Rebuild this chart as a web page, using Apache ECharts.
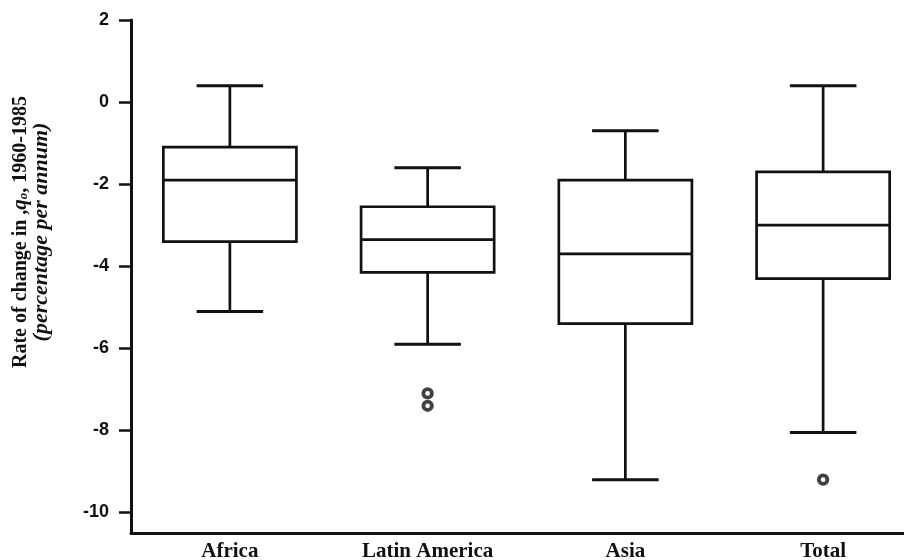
<!DOCTYPE html>
<html><head><meta charset="utf-8">
<script src="https://cdn.jsdelivr.net/npm/echarts@6/dist/echarts.min.js"></script>
<style>html,body{margin:0;padding:0;background:#fff}#c{width:904px;height:560px}</style>
</head><body><div id="c"></div>
<script>
const categories = ['Africa', 'Latin America', 'Asia', 'Total'];
const whiskerLow = [-5.1, -5.9, -9.2, -8.05];
const q1 = [-3.4, -4.15, -5.4, -4.3];
const median = [-1.9, -3.35, -3.7, -3.0];
const q3 = [-1.1, -2.55, -1.9, -1.7];
const whiskerHigh = [0.4, -1.6, -0.7, 0.4];
const outlierCat = ['Latin America', 'Latin America', 'Total'];
const outlierVal = [-7.1, -7.4, -9.2];
const yTicks = [-10, -8, -6, -4, -2, 0, 2];

const boxData = categories.map((c, i) => [i, whiskerLow[i], q1[i], median[i], q3[i], whiskerHigh[i]]);
const outlierData = outlierCat.map((c, i) => [categories.indexOf(c), outlierVal[i]]);

const chart = echarts.init(document.getElementById('c'), null, {renderer: 'canvas'});
const ink = '#111';
chart.setOption({
  animation: false,
  backgroundColor: '#fff',
  grid: {left: 131, top: 20, width: 791, height: 513, outerBoundsMode: 'none', containLabel: false},
  graphic: [{
    type: 'text',
    x: 31, y: 232,
    rotation: Math.PI / 2,
    style: {
      text: '{a|Rate of change in ,}{q|q}{s|o}{a|, 1960-1985}\n{b|(percentage per annum)}',
      align: 'center', verticalAlign: 'middle',
      rich: {
        a: {fontFamily: 'Liberation Serif', fontWeight: 'bold', fontSize: 20, fill: ink, lineHeight: 21, align: 'center'},
        q: {fontFamily: 'Liberation Serif', fontWeight: 'bold', fontStyle: 'italic', fontSize: 21, fill: ink, lineHeight: 21},
        s: {fontFamily: 'Liberation Serif', fontWeight: 'bold', fontStyle: 'italic', fontSize: 13, fill: ink, lineHeight: 21, padding: [7, 0, 0, 0]},
        b: {fontFamily: 'Liberation Serif', fontWeight: 'bold', fontStyle: 'italic', fontSize: 22, fill: ink, lineHeight: 21, align: 'center'}
      }
    }
  }],
  xAxis: {
    type: 'category', data: categories, boundaryGap: true,
    axisLine: {onZero: false, lineStyle: {color: ink, width: 3}},
    axisTick: {show: false},
    splitLine: {show: false},
    axisLabel: {margin: 8, color: ink, fontFamily: 'Liberation Serif', fontWeight: 'bold', fontSize: 21}
  },
  yAxis: {
    type: 'value', min: -10.5, max: 2,
    axisLine: {show: true, onZero: false, lineStyle: {color: ink, width: 3}},
    axisTick: {show: true, length: 12, lineStyle: {color: ink, width: 2.5}, customValues: yTicks},
    axisLabel: {margin: 22, color: ink, fontFamily: 'Liberation Sans', fontWeight: 'bold', fontSize: 18, customValues: yTicks},
    splitLine: {show: false}
  },
  series: [
    {
      type: 'custom',
      data: boxData,
      encode: {x: 0, y: [1, 2, 3, 4, 5]},
      clip: false,
      renderItem: function (params, api) {
        const idx = api.value(0);
        const band = api.size([1, 0])[0];
        const half = band * 0.673 / 2;
        const capHalf = half / 2;
        const x = api.coord([idx, 0])[0];
        const y = v => api.coord([idx, v])[1];
        const yLo = y(api.value(1)), yQ1 = y(api.value(2)), yMed = y(api.value(3)), yQ3 = y(api.value(4)), yHi = y(api.value(5));
        const ls = {stroke: ink, lineWidth: 2.7, fill: null};
        return {
          type: 'group',
          children: [
            {type: 'rect', shape: {x: x - half, y: yQ3, width: 2 * half, height: yQ1 - yQ3}, style: {stroke: ink, lineWidth: 2.7, fill: 'none'}},
            {type: 'line', shape: {x1: x - half, y1: yMed, x2: x + half, y2: yMed}, style: ls},
            {type: 'line', shape: {x1: x, y1: yQ3, x2: x, y2: yHi}, style: ls},
            {type: 'line', shape: {x1: x, y1: yQ1, x2: x, y2: yLo}, style: ls},
            {type: 'line', shape: {x1: x - capHalf, y1: yHi, x2: x + capHalf, y2: yHi}, style: {stroke: ink, lineWidth: 3}},
            {type: 'line', shape: {x1: x - capHalf, y1: yLo, x2: x + capHalf, y2: yLo}, style: {stroke: ink, lineWidth: 3}}
          ]
        };
      }
    },
    {
      type: 'scatter',
      data: outlierData,
      symbol: 'circle',
      symbolSize: 8.5,
      itemStyle: {color: '#fff', borderColor: ink, borderWidth: 3.8}
    }
  ]
});
</script>
</body></html>
